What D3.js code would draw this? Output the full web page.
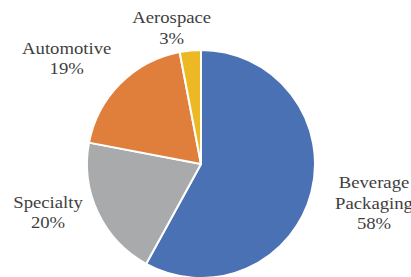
<!DOCTYPE html>
<html lang="en">
<head>
<meta charset="utf-8">
<title>Market share pie</title>
<style>
  body { margin: 0; background: #fff; }
  svg { display: block; }
  text.lbl {
    font-family: "Liberation Serif", "Times New Roman", Times, serif;
    font-size: 17px;
    fill: #3f3f3f;
  }
</style>
</head>
<body>
<svg id="chart" width="411" height="277"></svg>
<script src="https://cdn.jsdelivr.net/npm/d3@7"></script>
<script>
// data
var categories = ["Beverage Packaging", "Specialty", "Automotive", "Aerospace"];
var shares = [58, 20, 19, 3];
var labelLines = [["Beverage", "Packaging", "58%"], ["Specialty", "20%"], ["Automotive", "19%"], ["Aerospace", "3%"]];
var colors = ["#4a71b3", "#a9aaac", "#e07f3b", "#ecb823"];

var svg = d3.select("#chart"),
    cx = 201, cy = 164,
    radius = 114;

var pie = d3.pie().sort(null).value(function(d) { return d; });
var arc = d3.arc().innerRadius(0).outerRadius(radius);
var arcs = pie(shares);

var g = svg.append("g").attr("transform", "translate(" + cx + "," + cy + ")");

g.selectAll("path")
  .data(arcs)
  .enter().append("path")
  .attr("d", arc)
  .attr("fill", function(d, i) { return colors[i]; })
  .attr("stroke", "#fff")
  .attr("stroke-width", 2)
  .attr("stroke-linejoin", "round");

// labels outside the pie: pushed out along the slice mid angle, then nudged
var labelPos = [
  { r: 1.567, dx: 0, dy: -20 },
  { r: 1.483, dx: 0, dy: -28 },
  { r: 1.666, dx: 0, dy: 24 },
  { r: 1.24, dx: -16, dy: 0 }
];
var lineH = 20.5;

var lbl = g.selectAll("text.lbl")
  .data(arcs)
  .enter().append("text")
  .attr("class", "lbl")
  .attr("text-anchor", "middle")
  .attr("transform", function(d, i) {
    var a = (d.startAngle + d.endAngle) / 2;
    var r = radius * labelPos[i].r;
    var x = Math.sin(a) * r + labelPos[i].dx,
        y = -Math.cos(a) * r + labelPos[i].dy;
    return "translate(" + x + "," + y + ") scale(1.1,1)";
  });

lbl.selectAll("tspan")
  .data(function(d, i) { return labelLines[i]; })
  .enter().append("tspan")
  .attr("x", 0)
  .attr("y", function(d, j) { return j * lineH; })
  .text(function(d) { return d; });
</script>
</body>
</html>
